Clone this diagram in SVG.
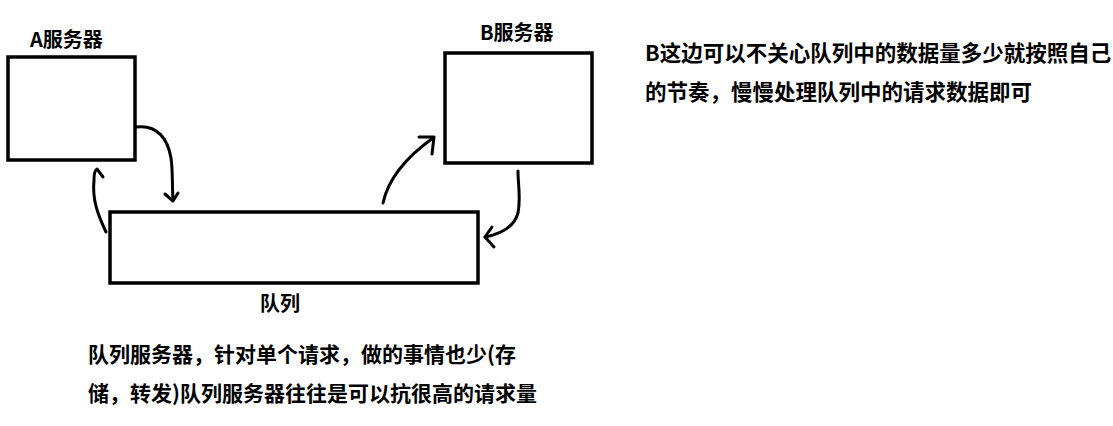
<svg xmlns="http://www.w3.org/2000/svg" width="1113" height="426" viewBox="0 0 1113 426">
<style>
.box{fill:#fff;stroke:#000;stroke-width:3.5}
.t{font-family:"Noto Sans CJK SC","Microsoft YaHei",sans-serif;font-weight:bold;fill:#000}
.c{fill:none;stroke:#000;stroke-width:3;stroke-linecap:round;stroke-linejoin:round}
</style>
<rect width="1113" height="426" fill="#fff"/>
<g id="nodeA">
<rect class="box" x="8" y="57" width="127" height="103"/>
<text class="t" x="30" y="47" font-size="20">A服务器</text>
</g>
<g id="nodeB">
<rect class="box" x="445" y="53" width="147" height="110"/>
<text class="t" x="480" y="40" font-size="20">B服务器</text>
</g>
<g id="queue">
<rect class="box" x="110" y="212" width="368" height="71"/>
<text class="t" x="260" y="311" font-size="20">队列</text>
</g>
<g id="connectors">
<path class="c" d="M136 127 C158 124 168 140 171 158 C173 172 172 186 173 200"/>
<path class="c" d="M165 194 L173 201 L178 193"/>
<path class="c" d="M106 232 C98 215 92 200 94 180 C94 174 95 170 97 169 L103 177"/>
<path class="c" d="M383 203 C388 180 405 158 433 138"/>
<path class="c" d="M419 137 L434 137 L432 154"/>
<path class="c" d="M518 171 C518 185 521 198 518 213 C514 228 500 234 485 237"/>
<path class="c" d="M492 227 L485 237 L494 247"/>
</g>
<g id="notes">
<text class="t" x="645" y="61" font-size="21.5">B这边可以不关心队列中的数据量多少就按照自己</text>
<text class="t" x="645" y="100" font-size="21.5">的节奏，慢慢处理队列中的请求数据即可</text>
<text class="t" x="88" y="362" font-size="21">队列服务器，针对单个请求，做的事情也少(存</text>
<text class="t" x="88" y="401" font-size="21">储，转发)队列服务器往往是可以抗很高的请求量</text>
</g>
</svg>
